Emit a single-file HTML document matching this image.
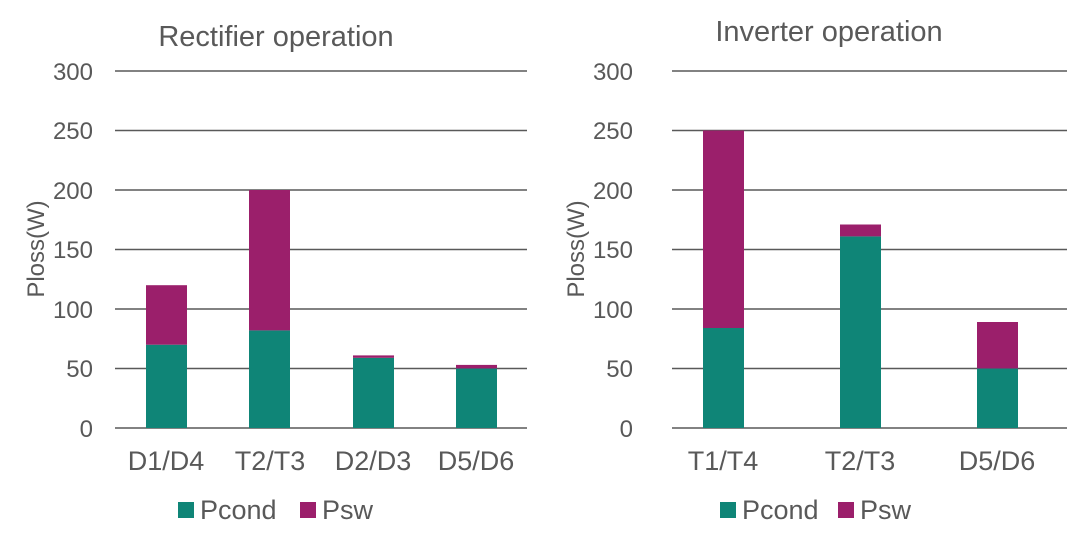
<!DOCTYPE html>
<html><head><style>body{margin:0;background:#fff}svg{display:block}text{font-family:"Liberation Sans",sans-serif;fill:#595959}</style></head><body>
<svg width="1080" height="537" viewBox="0 0 1080 537">
<g stroke="#595959" stroke-width="1.5">
<line x1="115" x2="527" y1="71" y2="71"/><line x1="115" x2="527" y1="130.5" y2="130.5"/><line x1="115" x2="527" y1="190" y2="190"/><line x1="115" x2="527" y1="249.5" y2="249.5"/><line x1="115" x2="527" y1="309" y2="309"/><line x1="115" x2="527" y1="368.5" y2="368.5"/><line x1="115" x2="527" y1="428" y2="428"/>
<line x1="672" x2="1067" y1="71" y2="71"/><line x1="672" x2="1067" y1="130.5" y2="130.5"/><line x1="672" x2="1067" y1="190" y2="190"/><line x1="672" x2="1067" y1="249.5" y2="249.5"/><line x1="672" x2="1067" y1="309" y2="309"/><line x1="672" x2="1067" y1="368.5" y2="368.5"/><line x1="672" x2="1067" y1="428" y2="428"/>
</g>
<g font-size="24" text-anchor="end">
<text x="93" y="80">300</text><text x="93" y="139">250</text><text x="93" y="199">200</text><text x="93" y="258">150</text><text x="93" y="318">100</text><text x="93" y="377">50</text><text x="93" y="437">0</text>
<text x="633" y="80">300</text><text x="633" y="139">250</text><text x="633" y="199">200</text><text x="633" y="258">150</text><text x="633" y="318">100</text><text x="633" y="377">50</text><text x="633" y="437">0</text>
</g>
<text x="276" y="46" font-size="29" text-anchor="middle">Rectifier operation</text>
<text x="829" y="41" font-size="29" text-anchor="middle">Inverter operation</text>
<text transform="translate(44,249) rotate(-90)" font-size="24" text-anchor="middle">Ploss(W)</text>
<text transform="translate(584,249) rotate(-90)" font-size="24" text-anchor="middle">Ploss(W)</text>
<g fill="#0f8577">
<rect x="146" y="344.7" width="41" height="83.3"/><rect x="249" y="330.4" width="41" height="97.6"/><rect x="353" y="357.8" width="41" height="70.2"/><rect x="456" y="368.5" width="41" height="59.5"/>
<rect x="703" y="328" width="41" height="100"/><rect x="840" y="236.4" width="41" height="191.6"/><rect x="977" y="368.5" width="41" height="59.5"/>
</g>
<g fill="#9b1f6b">
<rect x="146" y="285.2" width="41" height="59.5"/><rect x="249" y="190" width="41" height="140.4"/><rect x="353" y="355.4" width="41" height="2.4"/><rect x="456" y="364.9" width="41" height="3.6"/>
<rect x="703" y="130.5" width="41" height="197.5"/><rect x="840" y="224.5" width="41" height="11.9"/><rect x="977" y="322" width="41" height="46.5"/>
</g>
<g font-size="27" text-anchor="middle">
<text x="166" y="470">D1/D4</text><text x="270" y="470">T2/T3</text><text x="373" y="470">D2/D3</text><text x="476" y="470">D5/D6</text>
<text x="723" y="470">T1/T4</text><text x="860" y="470">T2/T3</text><text x="997" y="470">D5/D6</text>
</g>
<rect x="178" y="502" width="16" height="16" fill="#0f8577"/><text x="200" y="519" font-size="27">Pcond</text>
<rect x="300" y="502" width="16" height="16" fill="#9b1f6b"/><text x="322" y="519" font-size="27">Psw</text>
<rect x="720" y="502" width="16" height="16" fill="#0f8577"/><text x="742" y="519" font-size="27">Pcond</text>
<rect x="838" y="502" width="16" height="16" fill="#9b1f6b"/><text x="860" y="519" font-size="27">Psw</text>
</svg>
</body></html>
